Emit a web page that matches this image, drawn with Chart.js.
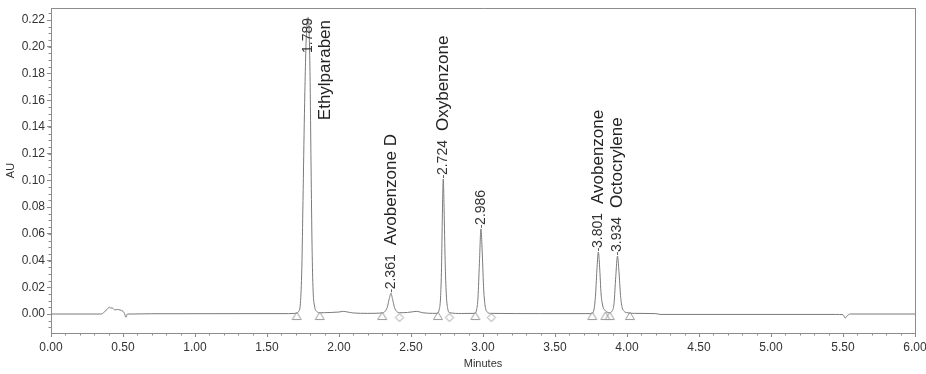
<!DOCTYPE html>
<html>
<head>
<meta charset="utf-8">
<script src="https://cdn.jsdelivr.net/npm/chart.js@4.4.1/dist/chart.umd.min.js"></script>
<style>
  html,body{margin:0;padding:0;background:#fff;}
  #wrap{width:926px;height:374px;position:relative;}
</style>
</head>
<body>
<div id="wrap"><canvas id="c" width="926" height="374"></canvas></div>
<script>
// ---- data ----
const traceTime = [0.00,0.35,0.37,0.39,0.405,0.415,0.425,0.435,0.445,0.46,0.48,0.50,0.51,0.52,0.53,0.55,0.70,1.50,1.65,
  1.700,1.720,1.732,1.742,1.750,1.760,1.772,1.786,1.798,1.806,1.813,1.820,1.830,1.845,1.870,
  1.90,1.95,2.00,2.03,2.06,2.10,2.20,2.30,
  2.320,2.335,2.348,2.361,2.372,2.385,2.400,2.420,
  2.45,2.50,2.54,2.58,2.65,2.680,
  2.695,2.705,2.712,2.718,2.724,2.730,2.737,2.745,2.755,2.768,
  2.85,2.940,2.955,2.965,2.975,2.986,2.995,3.005,3.015,3.030,3.050,
  3.40,3.750,3.770,3.782,3.792,3.801,3.810,3.820,3.832,3.845,3.860,3.880,
  3.895,3.910,3.922,3.934,3.944,3.955,3.966,3.980,4.000,4.050,4.200,4.230,
  5.45,5.50,5.515,5.53,5.55,6.00];
const traceAU = [0.0000,0.0000,0.0015,0.0035,0.0052,0.0044,0.0046,0.0036,0.0031,0.0034,0.0030,0.0020,0.0005,-0.0024,0.0000,0.0000,0.0002,0.0003,0.0003,
  0.0005,0.0020,0.0080,0.0350,0.0850,0.1500,0.2050,0.2220,0.1850,0.1100,0.0500,0.0180,0.0060,0.0020,0.0010,
  0.0010,0.0012,0.0015,0.0020,0.0015,0.0008,0.0005,0.0008,
  0.0020,0.0050,0.0110,0.0155,0.0110,0.0050,0.0020,0.0010,
  0.0010,0.0015,0.0020,0.0010,0.0005,0.0005,
  0.0030,0.0120,0.0350,0.0750,0.1010,0.0780,0.0400,0.0150,0.0040,0.0010,
  0.0004,0.0005,0.0030,0.0120,0.0380,0.0637,0.0450,0.0180,0.0060,0.0015,0.0005,
  0.0003,0.0003,0.0030,0.0150,0.0350,0.0464,0.0350,0.0150,0.0060,0.0030,0.0015,0.0010,
  0.0020,0.0080,0.0280,0.0434,0.0320,0.0140,0.0050,0.0020,0.0010,0.0005,0.0003,-0.0003,
  -0.0003,-0.0005,-0.0030,-0.0012,0.0000,0.0000];

const peakTimes   = [1.789, 2.361, 2.724, 2.986, 3.801, 3.934];
const peakHeights = [0.222, 0.0155, 0.101, 0.0637, 0.0464, 0.0434];
const peakLabels  = ['1.789','2.361','2.724','2.986','3.801','3.934'];
const peakNames   = ['Ethylparaben','Avobenzone D','Oxybenzone','','Avobenzone','Octocrylene'];

const startMarks  = [1.706, 1.866, 2.300, 2.687, 2.947, 3.759, 3.850, 3.880, 4.020]; // triangles
const endMarks    = [2.420, 2.767, 3.058];                                             // diamonds

const xTickValues = [0,0.5,1,1.5,2,2.5,3,3.5,4,4.5,5,5.5,6];
const yTickValues = [0,0.02,0.04,0.06,0.08,0.10,0.12,0.14,0.16,0.18,0.20,0.22];
const xMinorStep = 0.1, yMinorStep = 0.005;

// ---- styles ----
const FONT = "'Liberation Sans', Arial, sans-serif";
const AXIS = '#8c8c8c';
const TRACE = '#7a7a7a';
const MARK = '#9a9a9a';

function makeTriangle(){
  const c = document.createElement('canvas'); c.width = 12; c.height = 16;
  const g = c.getContext('2d');
  g.strokeStyle = MARK; g.lineWidth = 1;
  g.beginPath(); g.moveTo(6, 6); g.lineTo(10.5, 13.5); g.lineTo(1.5, 13.5); g.closePath(); g.stroke();
  return c;
}
function makeDiamond(){
  const c = document.createElement('canvas'); c.width = 12; c.height = 16;
  const g = c.getContext('2d');
  g.strokeStyle = MARK; g.lineWidth = 1;
  g.beginPath(); g.moveTo(6, 7.5); g.lineTo(10, 11.5); g.lineTo(6, 15.5); g.lineTo(2, 11.5); g.closePath(); g.stroke();
  return c;
}

const framePlugin = {
  id: 'frame',
  afterDraw(chart){
    const {ctx, chartArea:a, scales:{x, y}} = chart;
    ctx.save();
    ctx.strokeStyle = AXIS; ctx.lineWidth = 1;
    ctx.beginPath();
    ctx.moveTo(a.left, a.top + 0.5); ctx.lineTo(a.right + 0.5, a.top + 0.5);
    ctx.moveTo(a.right + 0.5, a.top); ctx.lineTo(a.right + 0.5, a.bottom);
    ctx.stroke();
    // minor ticks
    ctx.beginPath();
    for (let v = Math.ceil(x.min / xMinorStep) * xMinorStep; v <= x.max + 1e-9; v += xMinorStep) {
      const px = Math.round(x.getPixelForValue(v)) + 0.5;
      ctx.moveTo(px, a.bottom); ctx.lineTo(px, a.bottom + 2.5);
    }
    for (let v = Math.ceil(y.min / yMinorStep) * yMinorStep; v <= y.max + 1e-9; v += yMinorStep) {
      const py = Math.round(y.getPixelForValue(v)) + 0.5;
      ctx.moveTo(a.left, py); ctx.lineTo(a.left - 2.5, py);
    }
    ctx.stroke();
    ctx.restore();
  }
};

const labelPlugin = {
  id: 'peakLabels',
  afterDatasetsDraw(chart){
    const {ctx, chartArea:a, scales:{x, y}} = chart;
    ctx.save();
    const numFont = '14px ' + FONT, nameFont = '17px ' + FONT;
    const drawRot = (txt, cx, bottom, font, color) => {
      ctx.save();
      ctx.translate(cx, bottom);
      ctx.rotate(-Math.PI / 2);
      ctx.font = font; ctx.fillStyle = color;
      ctx.textAlign = 'left'; ctx.textBaseline = 'middle';
      ctx.fillText(txt, 0, 0);
      ctx.restore();
    };
    peakTimes.forEach((t, i) => {
      const px = x.getPixelForValue(t);
      const py = y.getPixelForValue(peakHeights[i]);
      ctx.font = numFont; const numW = ctx.measureText(peakLabels[i]).width;
      ctx.font = nameFont; const nameW = peakNames[i] ? ctx.measureText(peakNames[i]).width : 0;
      const gap = 9;
      let start = py - 4;
      let nameX = px, nameStart;
      const total = numW + (nameW ? gap + nameW : 0);
      if (start - total < a.top + 10) {
        if (start - numW < a.top + 10) start = a.top + 10 + numW;
        nameX = px + 17;
        nameStart = a.top + 12 + nameW;
      } else {
        nameStart = start - numW - gap;
        ctx.strokeStyle = '#666'; ctx.lineWidth = 1;
        ctx.beginPath(); ctx.moveTo(Math.round(px) + 0.5, py - 1); ctx.lineTo(Math.round(px) + 0.5, start); ctx.stroke();
      }
      drawRot(peakLabels[i], px, start, numFont, '#333');
      if (nameW) drawRot(peakNames[i], nameX, nameStart, nameFont, '#222');
    });
    ctx.restore();
  }
};

const tri = makeTriangle(), dia = makeDiamond();

new Chart(document.getElementById('c'), {
  type: 'scatter',
  data: {
    datasets: [
      {
        data: traceTime.map((t, i) => ({x: t, y: traceAU[i]})),
        showLine: true, borderColor: TRACE, borderWidth: 1, pointRadius: 0,
        cubicInterpolationMode: 'monotone', order: 2
      },
      {
        data: startMarks.map(t => ({x: t, y: 0})),
        showLine: false, pointStyle: tri, pointRadius: 6, order: 1
      },
      {
        data: endMarks.map(t => ({x: t, y: 0})),
        showLine: false, pointStyle: dia, pointRadius: 6, order: 1
      }
    ]
  },
  options: {
    responsive: false, animation: false, devicePixelRatio: 1,
    layout: {padding: {left: 0, right: 11, top: 8, bottom: 0}},
    plugins: {legend: {display: false}, tooltip: {enabled: false}},
    scales: {
      x: {
        type: 'linear', min: 0, max: 6,
        afterBuildTicks: s => { s.ticks = xTickValues.map(v => ({value: v})); },
        afterFit: s => { s.height = 41; s.paddingRight = 0; s.paddingLeft = 0; },
        grid: {drawOnChartArea: false, drawTicks: true, tickLength: 4, color: AXIS},
        border: {display: true, color: AXIS},
        ticks: {padding: 3, color: '#333', font: {family: FONT, size: 12}, maxRotation: 0,
                callback: v => Number(v).toFixed(2)},
        title: {display: true, text: 'Minutes', color: '#333', font: {family: FONT, size: 11}, padding: {top: 0, bottom: 3}}
      },
      y: {
        type: 'linear', min: -0.0142, max: 0.229,
        afterBuildTicks: s => { s.ticks = yTickValues.map(v => ({value: v})); },
        afterFit: s => { s.width = 51; s.paddingTop = 0; s.paddingBottom = 0; },
        grid: {drawOnChartArea: false, drawTicks: true, tickLength: 4, color: AXIS},
        border: {display: true, color: AXIS},
        ticks: {padding: 2, color: '#333', font: {family: FONT, size: 12},
                callback: v => Number(v).toFixed(2)},
        title: {display: true, text: 'AU', color: '#333', font: {family: FONT, size: 11}, padding: {top: 4, bottom: 0}}
      }
    }
  },
  plugins: [framePlugin, labelPlugin]
});
</script>
</body>
</html>
